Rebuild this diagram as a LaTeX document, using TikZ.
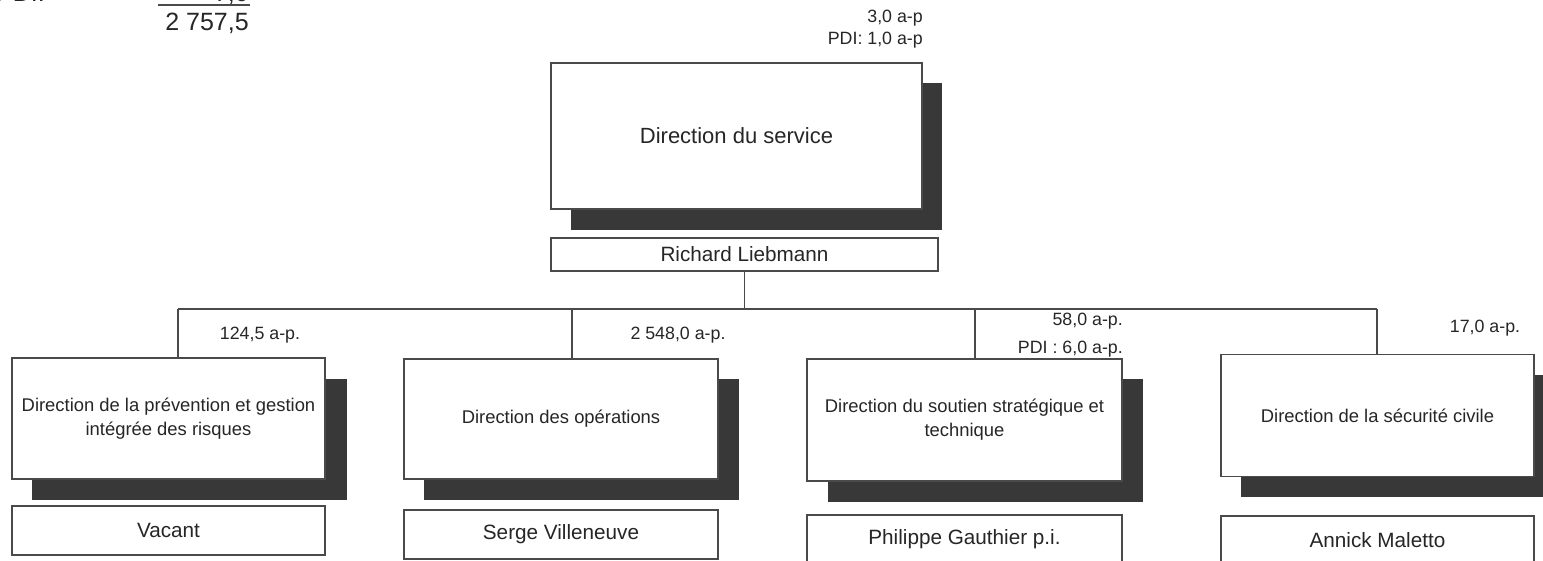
\documentclass[tikz,border=0pt]{standalone}
\usepackage{fontspec}
\setmainfont{Liberation Sans}
\definecolor{shadowgray}{HTML}{383838}
\definecolor{linegray}{HTML}{4A4A4A}
\definecolor{textgray}{HTML}{262626}
\tikzset{
  unitbox/.style={draw=linegray, line width=1.5pt, fill=white, inner sep=0pt, align=center, text=textgray},
  shadowbox/.style={fill=shadowgray, draw=none, inner sep=0pt},
  conn/.style={draw=linegray, line width=1.3pt},
  lbl/.style={font=\fontsize{17.8}{21}\selectfont, inner sep=0pt, text=textgray, align=right},
  dirfont/.style={font=\fontsize{18.4}{24}\selectfont},
  namefont/.style={font=\fontsize{20.7}{24}\selectfont},
}
\begin{document}
\begin{tikzpicture}[x=1pt,y=-1pt]
\useasboundingbox (0,0) rectangle (1543,561);
\fill[white] (0,0) rectangle (1543,561);
\clip (0,0) rectangle (1543,561);

% top-left totals (cut off at the top edge, as in the reference)
\node[inner sep=0pt, anchor=base east, font=\fontsize{25}{30}\selectfont, text=textgray] (pditot) at (45,2) {PDI:};
\node[inner sep=0pt, anchor=base east, font=\fontsize{25}{30}\selectfont, text=textgray] (pdival) at (249,2) {7,0};
\coordinate (sumL) at (158,5);
\coordinate (sumR) at (250,5);
\draw[conn] (sumL) -- (sumR);
\node[inner sep=0pt, font=\fontsize{25}{30}\selectfont, text=textgray] (total) at (207,23) {2 757,5};

% main box
\node[shadowbox, minimum width=371, minimum height=147] (mainsh) at (756.5,156.5) {};
\node[unitbox, minimum width=371, minimum height=146, font=\fontsize{22}{26}\selectfont] (main) at (736.5,136) {Direction du service};
\node[unitbox, namefont, minimum width=387, minimum height=33] (rich) at (744.5,254.5) {Richard Liebmann};
\node[lbl, anchor=east] (mainl1) at (923,18) {3,0 a-p};
\node[lbl, anchor=east] (mainl2) at (923,40) {PDI: 1,0 a-p};

% bus
\coordinate (bus) at (745,309);
\coordinate (c1) at (178,309);
\coordinate (c2) at (572,309);
\coordinate (c3) at (975,309);
\coordinate (c4) at (1377,309);
\draw[conn] (rich.south) -- (rich.south |- bus);
\draw[conn] (c1) -- (c4);

% box 1
\node[shadowbox, minimum width=315, minimum height=121] (b1sh) at (189.5,439.5) {};
\node[unitbox, dirfont, minimum width=313, minimum height=121] (b1) at (168.5,418.5) {Direction de la prévention et gestion\\intégrée des risques};
\node[unitbox, namefont, minimum width=313, minimum height=49] (n1) at (168.5,530.5) {Vacant};
\node[lbl] (l1) at (260,335) {124,5 a-p.};
\draw[conn] (c1) -- (c1 |- b1.north);

% box 2
\node[shadowbox, minimum width=315, minimum height=121] (b2sh) at (581.5,439.5) {};
\node[unitbox, dirfont, minimum width=314, minimum height=120] (b2) at (561,419) {Direction des opérations};
\node[unitbox, namefont, minimum width=314, minimum height=49] (n2) at (561,534.5) {Serge Villeneuve};
\node[lbl] (l2) at (678,335) {2 548,0 a-p.};
\draw[conn] (c2) -- (c2 |- b2.north);

% box 3
\node[shadowbox, minimum width=315, minimum height=123] (b3sh) at (985.5,440.5) {};
\node[unitbox, dirfont, minimum width=315, minimum height=122] (b3) at (964.5,420) {Direction du soutien stratégique et\\technique};
\node[unitbox, namefont, minimum width=315, minimum height=49] (n3) at (964.5,539.5) {Philippe Gauthier p.i.};
\node[lbl, anchor=east] (l3a) at (1123,321) {58,0 a-p.};
\node[lbl, anchor=east] (l3b) at (1123,349) {PDI : 6,0 a-p.};
\draw[conn] (c3) -- (c3 |- b3.north);

% box 4
\node[shadowbox, minimum width=314, minimum height=122] (b4sh) at (1398,436) {};
\node[unitbox, dirfont, minimum width=313, minimum height=122] (b4) at (1377.5,415.5) {Direction de la sécurité civile};
\node[unitbox, namefont, minimum width=313, minimum height=49] (n4) at (1377.5,540.5) {Annick Maletto};
\node[lbl] (l4) at (1485,328) {17,0 a-p.};
\draw[conn] (c4) -- (c4 |- b4.north);
\end{tikzpicture}
\end{document}
